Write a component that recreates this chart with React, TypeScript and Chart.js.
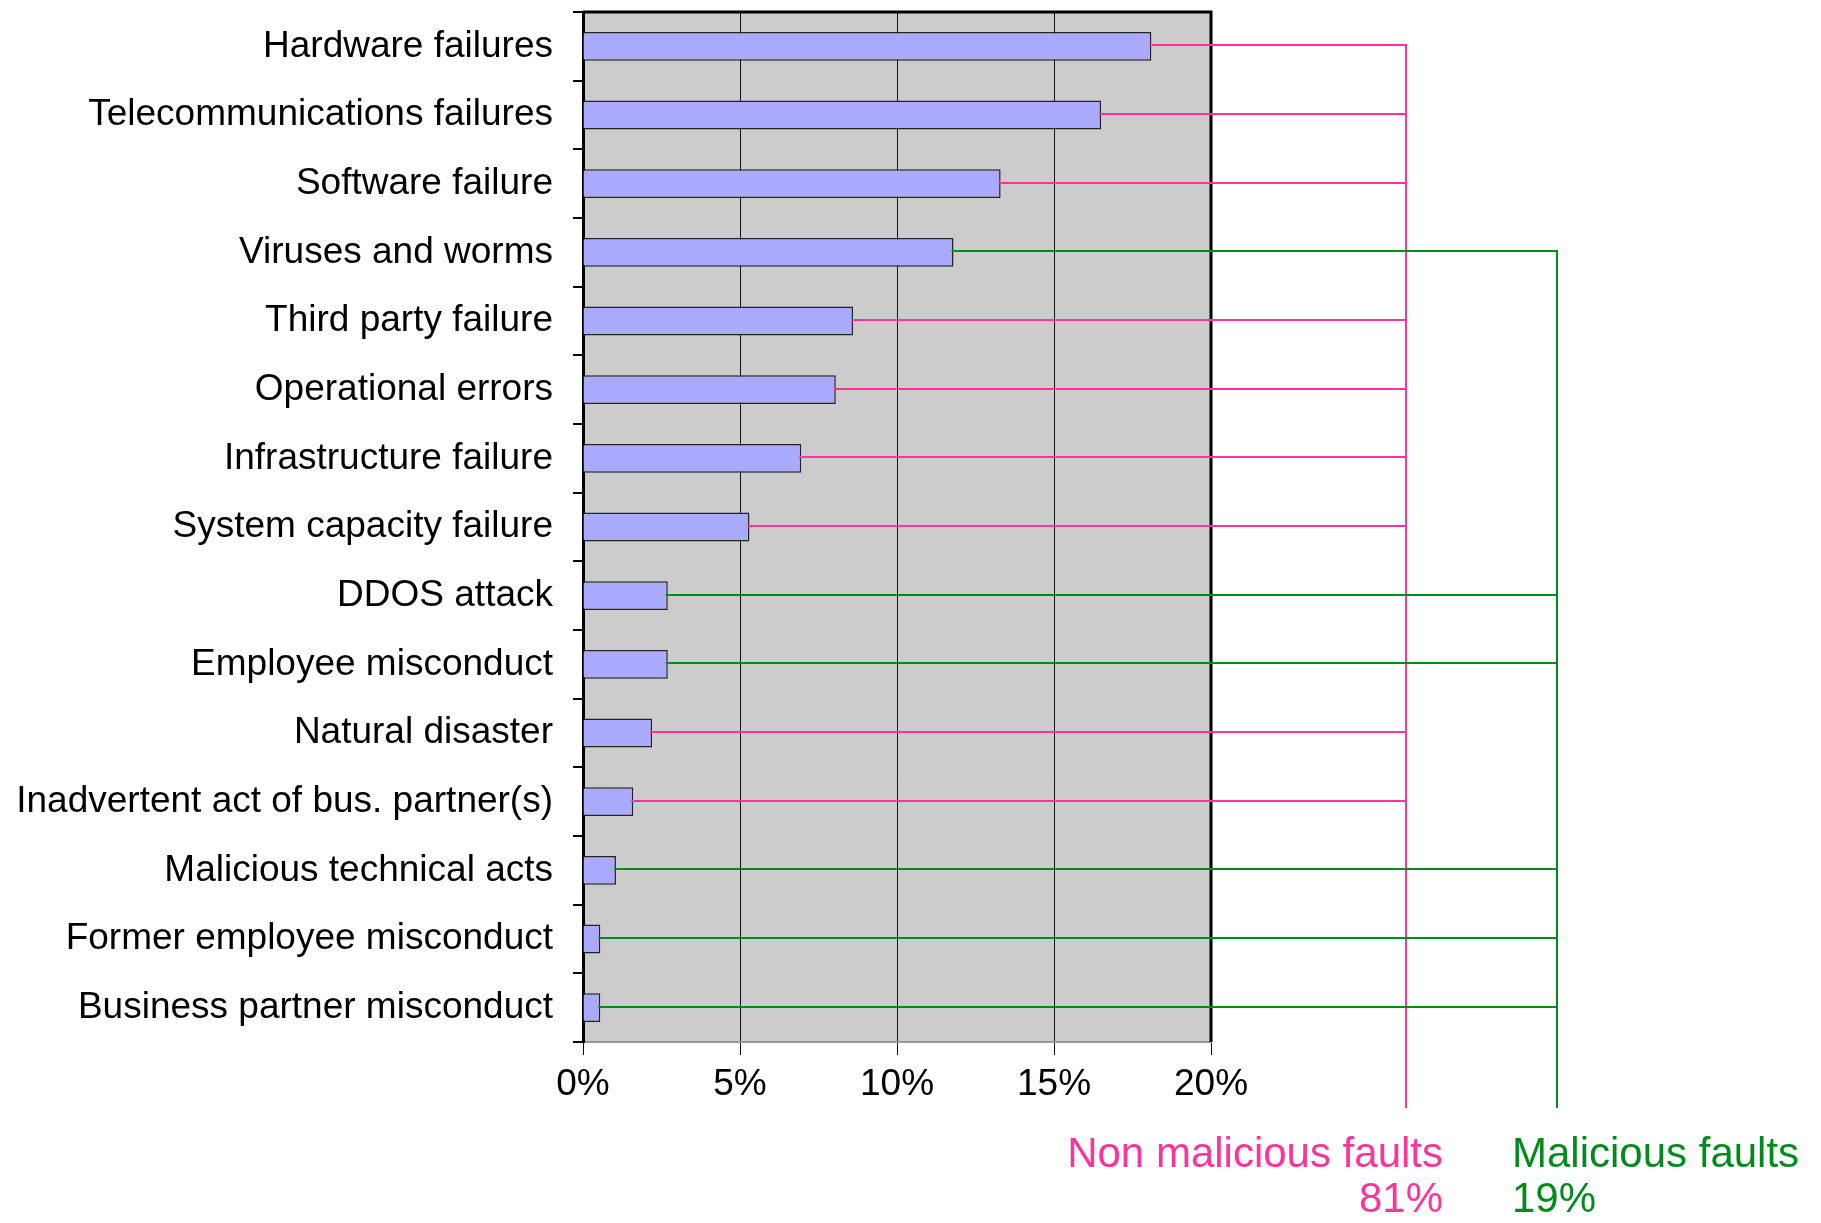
import React, { useEffect, useRef } from "react";
import { Chart, registerables } from "chart.js";

Chart.register(...registerables);

const categories: string[] = [
  "Hardware failures",
  "Telecommunications failures",
  "Software failure",
  "Viruses and worms",
  "Third party failure",
  "Operational errors",
  "Infrastructure failure",
  "System capacity failure",
  "DDOS attack",
  "Employee misconduct",
  "Natural disaster",
  "Inadvertent act of bus. partner(s)",
  "Malicious technical acts",
  "Former employee misconduct",
  "Business partner misconduct",
];

const shares: number[] = [18.1, 16.5, 13.3, 11.8, 8.6, 8.05, 6.95, 5.3, 2.7, 2.7, 2.2, 1.6, 1.05, 0.55, 0.55];

// "non" = non malicious, "mal" = malicious
const faultGroups: string[] = ["non", "non", "non", "mal", "non", "non", "non", "non", "mal", "mal", "non", "non", "mal", "mal", "mal"];

const xTicks: number[] = [0, 5, 10, 15, 20];

const groupKeys: string[] = ["non", "mal"];
const groupNames: string[] = ["Non malicious faults", "Malicious faults"];
const groupTotals: string[] = ["81%", "19%"];

const PINK = "#ff3399";
const GREEN = "#008c1c";
const FONT = "'Liberation Sans', Arial, Helvetica, sans-serif";

const W = 1821;
const H = 1223;
const PLOT_LEFT = 583;
const PLOT_RIGHT = 1211;
const PLOT_TOP = 12;
const PLOT_BOTTOM = 1042;

const bracketPlugin = {
  id: "faultBrackets",
  beforeDraw(chart: any) {
    const { ctx, chartArea } = chart;
    ctx.save();
    ctx.fillStyle = "#cccccc";
    ctx.fillRect(chartArea.left, chartArea.top, chartArea.right - chartArea.left, chartArea.bottom - chartArea.top);
    ctx.restore();
  },
  afterDatasetsDraw(chart: any) {
    const { ctx, chartArea } = chart;
    const meta = chart.getDatasetMeta(0);
    ctx.save();
    // top and right plot border
    ctx.strokeStyle = "#000";
    ctx.lineWidth = 3;
    ctx.beginPath();
    ctx.moveTo(chartArea.left, chartArea.top);
    ctx.lineTo(chartArea.right, chartArea.top);
    ctx.lineTo(chartArea.right, chartArea.bottom);
    ctx.stroke();

    const bracketX = [chartArea.right + 195, chartArea.right + 346];
    const colors = [PINK, GREEN];
    const bottomY = chartArea.bottom + 66;

    groupKeys.forEach((key, g) => {
      const gx = bracketX[g];
      ctx.strokeStyle = colors[g];
      ctx.lineWidth = 2;
      let minY = Infinity;
      faultGroups.forEach((fg, i) => {
        if (fg !== key) return;
        const bar = meta.data[i];
        const y = Math.round(bar.y) - 1;
        minY = Math.min(minY, y);
        ctx.beginPath();
        ctx.moveTo(bar.x - 2, y);
        ctx.lineTo(gx, y);
        ctx.stroke();
      });
      ctx.beginPath();
      ctx.moveTo(gx, minY - 1);
      ctx.lineTo(gx, bottomY);
      ctx.stroke();
    });

    ctx.font = `42px ${FONT}`;
    ctx.textBaseline = "alphabetic";
    ctx.fillStyle = PINK;
    ctx.textAlign = "right";
    ctx.fillText(groupNames[0], bracketX[0] + 37, chartArea.bottom + 125);
    ctx.fillText(groupTotals[0], bracketX[0] + 37, chartArea.bottom + 170);
    ctx.fillStyle = GREEN;
    ctx.textAlign = "left";
    ctx.fillText(groupNames[1], bracketX[1] - 45, chartArea.bottom + 125);
    ctx.fillText(groupTotals[1], bracketX[1] - 45, chartArea.bottom + 170);
    ctx.restore();
  },
};

export default function App() {
  const canvasRef = useRef<HTMLCanvasElement | null>(null);

  useEffect(() => {
    const canvas = canvasRef.current;
    if (!canvas) return;
    const chart = new Chart(canvas, {
      type: "bar",
      data: {
        labels: categories,
        datasets: [
          {
            data: shares,
            backgroundColor: "#aaaaff",
            borderColor: "#222222",
            borderWidth: 1.5,
            barPercentage: 0.42,
            categoryPercentage: 1.0,
          },
        ],
      },
      options: {
        indexAxis: "y",
        animation: false,
        responsive: false,
        maintainAspectRatio: false,
        devicePixelRatio: 1,
        layout: { padding: { top: PLOT_TOP, right: W - PLOT_RIGHT, left: 0, bottom: 0 } },
        plugins: { legend: { display: false }, tooltip: { enabled: false } },
        scales: {
          x: {
            type: "linear",
            min: 0,
            max: 20,
            afterBuildTicks: (scale: any) => {
              scale.ticks = xTicks.map((v) => ({ value: v }));
            },
            afterFit: (scale: any) => {
              scale.height = H - PLOT_BOTTOM;
            },
            ticks: {
              callback: (v: any) => `${v}%`,
              color: "#000",
              font: { family: FONT, size: 37 },
              padding: 8,
              maxRotation: 0,
              autoSkip: false,
            },
            grid: { color: "#111", lineWidth: 1, tickLength: 13, drawTicks: true },
            border: { color: "#999999", width: 2 },
          },
          y: {
            type: "category",
            afterFit: (scale: any) => {
              scale.width = PLOT_LEFT;
              scale.paddingTop = 0;
              scale.paddingBottom = 0;
            },
            ticks: {
              color: "#000",
              font: { family: FONT, size: 37 },
              padding: 20,
              autoSkip: false,
            },
            grid: { display: true, drawOnChartArea: false, drawTicks: true, tickLength: 10, color: "#000", lineWidth: 2, offset: true },
            border: { color: "#000", width: 3 },
          },
        },
      },
      plugins: [bracketPlugin],
    });
    return () => chart.destroy();
  }, []);

  return (
    <div style={{ position: "fixed", left: 0, top: 0, width: W, height: H, background: "#fff" }}>
      <canvas ref={canvasRef} width={W} height={H} style={{ display: "block", width: W, height: H }} />
    </div>
  );
}
